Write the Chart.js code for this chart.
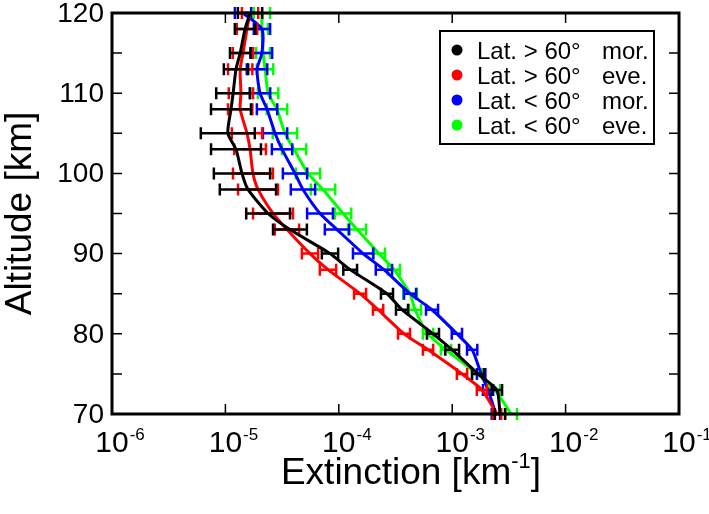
<!DOCTYPE html>
<html>
<head>
<meta charset="utf-8">
<script src="https://cdn.jsdelivr.net/npm/chart.js@4.4.1/dist/chart.umd.min.js"></script>
<style>
  body { margin: 0; background: #fff; }
  #wrap { width: 709px; height: 514px; }
</style>
</head>
<body>
<div id="wrap"><canvas id="chart"></canvas></div>
<script>
// altitudes (km) where the profiles and error bars are read
const altitudes = [120, 118, 115, 113, 110, 108, 105, 103, 100, 98, 95, 93, 90, 88, 85, 83, 80, 78, 75, 73, 70];

// extinction [km^-1]
const highMor = [1.65e-5, 1.49e-5, 1.35e-5, 1.24e-5, 1.17e-5, 1.12e-5, 1.05e-5, 1.24e-5, 1.40e-5, 1.58e-5, 2.38e-5, 3.71e-5, 8.36e-5, 1.26e-4, 2.66e-4, 3.61e-4, 6.77e-4, 1.00e-3, 1.69e-3, 2.48e-3, 2.64e-3];
const highEve = [1.65e-5, 1.55e-5, 1.43e-5, 1.35e-5, 1.37e-5, 1.35e-5, 1.55e-5, 1.65e-5, 1.75e-5, 1.94e-5, 2.63e-5, 3.49e-5, 5.57e-5, 8.03e-5, 1.54e-4, 2.22e-4, 3.76e-4, 6.12e-4, 1.22e-3, 1.83e-3, 2.48e-3];
const lowMor  = [1.43e-5, 2.10e-5, 2.10e-5, 1.90e-5, 2.02e-5, 2.33e-5, 2.74e-5, 3.16e-5, 4.11e-5, 4.83e-5, 6.83e-5, 9.64e-5, 1.64e-4, 2.50e-4, 4.25e-4, 6.64e-4, 1.10e-3, 1.50e-3, 1.80e-3, 2.07e-3, 2.43e-3];
const lowEve  = [2.10e-5, 2.10e-5, 2.15e-5, 2.24e-5, 2.38e-5, 2.85e-5, 3.35e-5, 4.03e-5, 5.35e-5, 7.26e-5, 1.09e-4, 1.45e-4, 2.26e-4, 3.07e-4, 4.25e-4, 4.70e-4, 6.12e-4, 8.82e-4, 1.66e-3, 2.39e-3, 3.30e-3];

// error bars as a factor: bar runs from value/f to value*f
const highMorErr = [1.28, 1.23, 1.23, 1.28, 1.41, 1.50, 1.73, 1.66, 1.77, 1.77, 1.56, 1.41, 1.18, 1.15, 1.13, 1.13, 1.13, 1.15, 1.13, 1.11, 1.11];
const highEveErr = [1.18, 1.23, 1.23, 1.28, 1.28, 1.28, 1.36, 1.38, 1.50, 1.50, 1.50, 1.28, 1.18, 1.18, 1.13, 1.11, 1.13, 1.11, 1.11, 1.11, 1.09];
const lowMorErr  = [1.18, 1.18, 1.23, 1.23, 1.23, 1.23, 1.28, 1.23, 1.28, 1.28, 1.30, 1.28, 1.23, 1.18, 1.13, 1.13, 1.11, 1.11, 1.09, 1.11, 1.09];
const lowEveErr  = [1.18, 1.13, 1.15, 1.18, 1.23, 1.23, 1.28, 1.28, 1.28, 1.28, 1.18, 1.20, 1.13, 1.13, 1.15, 1.13, 1.11, 1.11, 1.11, 1.11, 1.13];

const legendLat  = ['Lat. > 60°', 'Lat. > 60°', 'Lat. < 60°', 'Lat. < 60°'];
const legendTime = ['mor.', 'eve.', 'mor.', 'eve.'];
const colors = ['#000000', '#ff0000', '#0000ff', '#00ff00'];

const xTickPowers = [-6, -5, -4, -3, -2, -1];
const yTicks = [70, 75, 80, 85, 90, 95, 100, 105, 110, 115, 120];
const yTickLabels = [70, 80, 90, 100, 110, 120];

const FONT = '"Liberation Sans", Arial, sans-serif';

function series(vals, errs, i) {
  return {
    data: vals.map((v, j) => ({ x: v, y: altitudes[j] })),
    errFactor: errs,
    borderColor: colors[i],
    backgroundColor: colors[i],
    borderWidth: 3,
    pointRadius: 0,
    tension: 0.2,
    fill: false,
  };
}

// horizontal error bars with caps, drawn right after each line
const errorBars = {
  id: 'errorBars',
  afterDatasetDraw(chart, args) {
    const ds = chart.data.datasets[args.index];
    const xs = chart.scales.x, ys = chart.scales.y, ctx = chart.ctx;
    ctx.save();
    ctx.strokeStyle = ds.borderColor;
    ctx.lineWidth = 2.5;
    ds.data.forEach((p, j) => {
      const f = ds.errFactor[j];
      const x1 = xs.getPixelForValue(p.x / f);
      const x2 = xs.getPixelForValue(p.x * f);
      const py = ys.getPixelForValue(p.y);
      ctx.beginPath();
      ctx.moveTo(x1, py); ctx.lineTo(x2, py);
      ctx.moveTo(x1, py - 6); ctx.lineTo(x1, py + 6);
      ctx.moveTo(x2, py - 6); ctx.lineTo(x2, py + 6);
      ctx.stroke();
    });
    ctx.restore();
  }
};

const frame = {
  id: 'frame',
  afterDraw(chart) {
    const ctx = chart.ctx, a = chart.chartArea;
    const xs = chart.scales.x, ys = chart.scales.y;
    ctx.save();
    ctx.strokeStyle = '#000';
    ctx.lineWidth = 3;
    ctx.strokeRect(a.left, a.top, a.right - a.left, a.bottom - a.top);

    // inward ticks
    ctx.lineWidth = 1.5;
    ctx.beginPath();
    xTickPowers.forEach(p => {
      const px = xs.getPixelForValue(Math.pow(10, p));
      ctx.moveTo(px, a.bottom); ctx.lineTo(px, a.bottom - 10);
      ctx.moveTo(px, a.top); ctx.lineTo(px, a.top + 10);
    });
    yTicks.forEach(t => {
      const py = ys.getPixelForValue(t);
      ctx.moveTo(a.left, py); ctx.lineTo(a.left + 10, py);
      ctx.moveTo(a.right, py); ctx.lineTo(a.right - 10, py);
    });
    ctx.stroke();

    // tick labels
    ctx.fillStyle = '#000';
    ctx.textAlign = 'right';
    ctx.textBaseline = 'middle';
    ctx.font = '28px ' + FONT;
    yTickLabels.forEach(t => {
      ctx.fillText(String(t), a.left - 8, ys.getPixelForValue(t) + 1);
    });

    ctx.textBaseline = 'alphabetic';
    xTickPowers.forEach(p => {
      const px = xs.getPixelForValue(Math.pow(10, p));
      ctx.font = '30px ' + FONT;
      ctx.textAlign = 'center';
      ctx.fillText('10', px, 452);
      const w = ctx.measureText('10').width;
      ctx.font = '17px ' + FONT;
      ctx.textAlign = 'left';
      ctx.fillText(String(p), px + w / 2 + 1, 440);
    });

    // axis titles
    ctx.font = '37px ' + FONT;
    const main = 'Extinction [km', sup = '-1', close = ']';
    const wMain = ctx.measureText(main).width;
    const wClose = ctx.measureText(close).width;
    ctx.font = '22px ' + FONT;
    const wSup = ctx.measureText(sup).width;
    const tx = 411 - (wMain + wSup + wClose) / 2;
    ctx.textAlign = 'left';
    ctx.font = '37px ' + FONT;
    ctx.fillText(main, tx, 484);
    ctx.font = '22px ' + FONT;
    ctx.fillText(sup, tx + wMain, 468);
    ctx.font = '37px ' + FONT;
    ctx.fillText(close, tx + wMain + wSup, 484);

    ctx.save();
    ctx.translate(21, (a.top + a.bottom) / 2);
    ctx.rotate(-Math.PI / 2);
    ctx.textAlign = 'center';
    ctx.textBaseline = 'middle';
    ctx.fillText('Altitude [km]', 0, 0);
    ctx.restore();

    // legend
    ctx.lineWidth = 2;
    ctx.strokeRect(440, 31, 214, 113);
    ctx.font = '24px ' + FONT;
    ctx.textBaseline = 'alphabetic';
    legendLat.forEach((lab, i) => {
      const ry = 50 + i * 25;
      ctx.fillStyle = colors[i];
      ctx.beginPath();
      ctx.arc(457, ry, 5.5, 0, Math.PI * 2);
      ctx.fill();
      ctx.fillStyle = '#000';
      ctx.textAlign = 'left';
      ctx.fillText(lab, 477, ry + 9);
      ctx.fillText(legendTime[i], 602, ry + 9);
    });
    ctx.restore();
  }
};

new Chart(document.getElementById('chart'), {
  type: 'line',
  data: {
    datasets: [
      series(highMor, highMorErr, 0),
      series(highEve, highEveErr, 1),
      series(lowMor, lowMorErr, 2),
      series(lowEve, lowEveErr, 3),
    ],
  },
  options: {
    responsive: true,
    maintainAspectRatio: false,
    animation: false,
    layout: { padding: { left: 112, right: 30, top: 13, bottom: 100 } },
    plugins: { legend: { display: false }, tooltip: { enabled: false } },
    scales: {
      x: { type: 'logarithmic', min: 1e-6, max: 1e-1, display: false },
      y: { type: 'linear', min: 70, max: 120, display: false },
    },
  },
  plugins: [errorBars, frame],
});
</script>
</body>
</html>
